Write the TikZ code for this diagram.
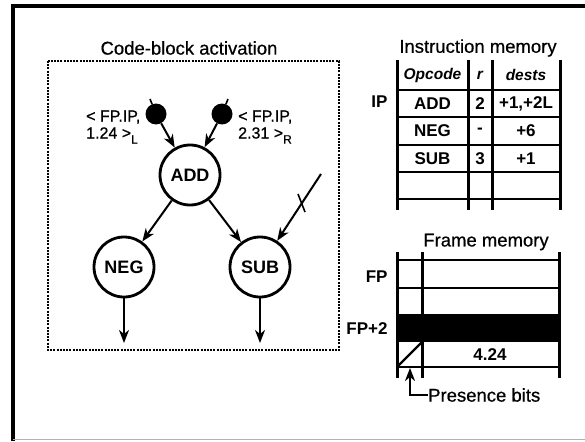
\documentclass[tikz,border=0pt]{standalone}
\usepackage{fontspec}
\setmainfont{Liberation Sans}
\usetikzlibrary{arrows.meta}
\begin{document}
\begin{tikzpicture}[x=1pt,y=-1pt,
  op/.style={circle, draw, line width=2.8pt, minimum size=60pt, inner sep=0pt, font=\fontsize{18}{18}\selectfont\bfseries},
  tok/.style={circle, fill, minimum size=21pt, inner sep=0pt},
  arr/.style={line width=2pt, -{Stealth[length=13pt,width=10pt,inset=4pt]}},
  thin/.style={line width=1.6pt},
  title/.style={font=\fontsize{18.5}{18.5}\selectfont\addfontfeature{FakeBold=0.6}},
  lbl/.style={font=\fontsize{16}{17}\selectfont\addfontfeature{FakeBold=0.8}, align=left, inner sep=0pt},
  cell/.style={font=\fontsize{17}{17}\selectfont\bfseries},
  hdr/.style={font=\fontsize{15.5}{15.5}\selectfont\bfseries\itshape},
  vrule/.style={line width=3pt},
  hrule/.style={line width=2pt}]
\useasboundingbox (0,0) rectangle (585,441);
% outer frame
\draw[line width=3.5pt] (13,441) -- (13,6) -- (585,6);
\draw[line width=1pt, gray!60] (13,439.5) -- (585,439.5);

% ---- code-block activation ----
\node[title] (cbt) at (189,48) {Code-block activation};
\draw[line width=2.5pt, dash pattern=on 2pt off 1.2pt] (48,61) rectangle (339,350);

\node[op] (add) at (190,175) {ADD};
\node[op] (neg) at (124,267) {NEG};
\node[op] (sub) at (260,267) {SUB};

\node[tok] (ld) at (156,114) {};
\node[tok] (rd) at (222,114) {};
\coordinate (lin) at (150,99);
\coordinate (rin) at (228,99);
\draw[thin] (lin) -- (ld);
\draw[thin] (rin) -- (rd);
\draw[arr] (ld) -- (add);
\draw[arr] (rd) -- (add);

\node[lbl, anchor=west] (llab) at (86,127) {< FP.IP,\\1.24 >\raisebox{-5pt}{\fontsize{12}{12}\selectfont L}};
\node[lbl, anchor=west] (rlab) at (238,127) {< FP.IP,\\2.31 >\raisebox{-5pt}{\fontsize{12}{12}\selectfont R}};

\draw[arr] (add) -- (neg);
\draw[arr] (add) -- (sub);
\coordinate (subin) at (321,174);
\draw[arr] (subin) -- (sub);
\draw[thin] (298,194) -- (305,212);

\coordinate (negout) at (124,343);
\coordinate (subout) at (260,343);
\draw[arr] (neg) -- (negout);
\draw[arr] (sub) -- (subout);

% ---- instruction memory ----
\node[title] (imt) at (478,48) {Instruction memory};
\foreach \x in {397,468,492,560} \draw[vrule] (\x,60) -- (\x,210);
\foreach \y in {90,117,145,172,199} \draw[hrule] (397,\y) -- (560,\y);
\node[hdr] (h1) at (432.5,75) {Opcode};
\node[hdr] (h2) at (480,75) {r};
\node[hdr] (h3) at (526,75) {dests};
\node[cell] (a1) at (432.5,103.5) {ADD};
\node[cell] (a2) at (480,103.5) {2};
\node[cell] (a3) at (526,103.5) {+1,+2L};
\node[cell] (b1) at (432.5,131) {NEG};
\node[cell] (b2) at (480,131) {-};
\node[cell] (b3) at (526,131) {+6};
\node[cell] (c1) at (432.5,158.5) {SUB};
\node[cell] (c2) at (480,158.5) {3};
\node[cell] (c3) at (526,158.5) {+1};
\node[cell, anchor=east] (ip) at (391,102) {IP};

% ---- frame memory ----
\node[title] (fmt) at (486,242) {Frame memory};
\fill (397,314) rectangle (559,342);
\foreach \x in {397,422,559} \draw[vrule] (\x,252) -- (\x,378);
\foreach \y in {260,288,367} \draw[hrule] (397,\y) -- (559,\y);
\draw[line width=2.2pt] (397,367) -- (422,342);
\node[cell] (v) at (490,355) {4.24};
\node[cell, anchor=east] (fp) at (391,277) {FP};
\node[cell, anchor=east] (fp2) at (391,329) {FP+2};

\node[title, anchor=west, inner sep=0pt] (pb) at (428,395) {Presence bits};
\coordinate (pbtip) at (410,368);
\draw[arr] (pb.west) -| (pbtip);
\end{tikzpicture}
\end{document}
